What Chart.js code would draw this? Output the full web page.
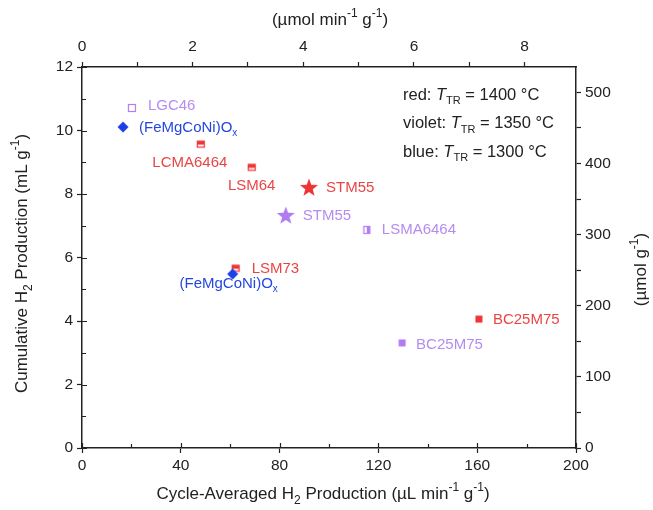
<!DOCTYPE html>
<html>
<head>
<meta charset="utf-8">
<script src="https://cdn.jsdelivr.net/npm/chart.js@4.4.1/dist/chart.umd.min.js"></script>
<style>
  html, body { margin: 0; padding: 0; background: #fff; }
  #wrap { width: 653px; height: 510px; }
</style>
</head>
<body>
<div id="wrap"><canvas id="chart"></canvas></div>
<script>
const materials = ['LGC46', '(FeMgCoNi)Ox', 'LCMA6464', 'LSM64', 'STM55', 'STM55', 'LSMA6464', 'LSM73', '(FeMgCoNi)Ox', 'BC25M75', 'BC25M75'];
const rateUL = [20.2, 16.6, 48.1, 68.7, 91.9, 82.5, 115.3, 62.2, 61.0, 160.7, 129.6];       // uL min-1 g-1
const cumulativeML = [10.71, 10.11, 9.57, 8.84, 8.22, 7.34, 6.87, 5.66, 5.48, 4.06, 3.31]; // mL g-1
const reductionT = [1350, 1300, 1400, 1400, 1400, 1350, 1350, 1400, 1300, 1400, 1350];     // deg C
const markerKind = ['open', 'diamond', 'halfTop', 'halfTop', 'star', 'star', 'halfRight', 'halfTop', 'diamond', 'filled', 'filled'];

const bottomTicks = [0, 40, 80, 120, 160, 200];
const topTicks = [0, 2, 4, 6, 8];
const leftTicks = [0, 2, 4, 6, 8, 10, 12];
const rightTicks = [0, 100, 200, 300, 400, 500];
const molarVolume = 22.4; // mL per mmol

// label placement relative to the marker: dx, dy, align
const labelPlace = [
    [16, -2, 'left'], [16, 1, 'left'], [-11, 19, 'center'], [0, 19, 'center'],
    [17, 1, 'left'], [17, 1, 'left'], [15, 0, 'left'], [16, 1, 'left'],
    [-4, 10, 'center'], [14, 1, 'left'], [14, 2, 'left']
];

const markColor = {1400: '#ef3434', 1350: '#b07cf2', 1300: '#1e3fe6'};
const textColor = {1400: '#e84545', 1350: '#b58cf0', 1300: '#2447e0'};
const ink = '#222';
const FONT = "'Liberation Sans', Arial, sans-serif";

function makeMarker(kind, color){
    const s = kind === 'star' ? 22 : 14;
    const c = document.createElement('canvas');
    c.width = s; c.height = s;
    const g = c.getContext('2d');
    const m = s / 2;
    g.fillStyle = color;
    g.strokeStyle = color;
    g.lineWidth = 1.2;
    if (kind === 'filled') g.fillRect(m - 3.5, m - 3.5, 7, 7);
    if (kind === 'open') g.strokeRect(m - 3.5, m - 3.5, 7, 7);
    if (kind === 'halfTop') { g.strokeRect(m - 3.5, m - 3, 7, 6); g.fillRect(m - 3.5, m - 3, 7, 3.5); }
    if (kind === 'halfRight') { g.strokeRect(m - 3, m - 3.5, 6, 7); g.fillRect(m, m - 3.5, 3, 7); }
    if (kind === 'diamond') {
        g.beginPath();
        g.moveTo(m, m - 5.5); g.lineTo(m + 5.5, m); g.lineTo(m, m + 5.5); g.lineTo(m - 5.5, m);
        g.closePath(); g.fill();
    }
    if (kind === 'star') {
        g.beginPath();
        for (let k = 0; k < 10; k++) {
            const r = k % 2 === 0 ? 9.5 : 3.9;
            const a = -Math.PI / 2 + k * Math.PI / 5;
            g.lineTo(m + r * Math.cos(a), m + 1 + r * Math.sin(a));
        }
        g.closePath(); g.fill();
    }
    return c;
}
const markerImages = markerKind.map((k, i) => makeMarker(k, markColor[reductionT[i]]));

// text with sub/superscripts: parts = [[text, 'n'|'sub'|'sup'|'it'], ...]
function drawRich(ctx, parts, x, y, size, align, rotate){
    const small = Math.round(size * 0.68);
    const fontOf = t => t === 'sub' || t === 'sup' ? `${small}px ${FONT}` : (t === 'it' ? `italic ${size}px ${FONT}` : `${size}px ${FONT}`);
    ctx.save();
    ctx.translate(x, y);
    if (rotate) ctx.rotate(rotate);
    let total = 0;
    parts.forEach(([s, t]) => { ctx.font = fontOf(t); total += ctx.measureText(s).width; });
    let cx = align === 'center' ? -total / 2 : (align === 'right' ? -total : 0);
    ctx.textBaseline = 'middle';
    ctx.textAlign = 'left';
    parts.forEach(([s, t]) => {
        ctx.font = fontOf(t);
        const dy = t === 'sub' ? size * 0.38 : (t === 'sup' ? -size * 0.35 : 0);
        ctx.fillText(s, cx, dy);
        cx += ctx.measureText(s).width;
    });
    ctx.restore();
}

function nameParts(name){
    if (name.endsWith(')Ox')) return [[name.slice(0, -1), 'n'], ['x', 'sub']];
    return [[name, 'n']];
}

const pointLabels = {
    id: 'pointLabels',
    afterDatasetsDraw(chart){
        const ctx = chart.ctx;
        const meta = chart.getDatasetMeta(0);
        meta.data.forEach((pt, i) => {
            const [dx, dy, align] = labelPlace[i];
            ctx.fillStyle = textColor[reductionT[i]];
            drawRich(ctx, nameParts(materials[i]), pt.x + dx, pt.y + dy, 15, align, 0);
        });
    }
};

// inward tick marks on the left and bottom axes
const innerTicks = {
    id: 'innerTicks',
    afterDraw(chart){
        const ctx = chart.ctx;
        const a = chart.chartArea;
        ctx.save();
        ctx.strokeStyle = ink;
        ctx.lineWidth = 1.2;
        ctx.beginPath();
        chart.scales.y.ticks.forEach(t => {
            const py = Math.round(chart.scales.y.getPixelForValue(t.value)) + 0.5;
            const len = leftTicks.includes(t.value) ? 5 : 4;
            ctx.moveTo(a.left, py); ctx.lineTo(a.left + len, py);
        });
        chart.scales.x.ticks.forEach(t => {
            const px = Math.round(chart.scales.x.getPixelForValue(t.value)) + 0.5;
            const len = bottomTicks.includes(t.value) ? 5 : 4;
            ctx.moveTo(px, a.bottom); ctx.lineTo(px, a.bottom - len);
        });
        ctx.stroke();
        ctx.restore();
    }
};

const annotations = {
    id: 'annotations',
    afterDraw(chart){
        const ctx = chart.ctx;
        const a = chart.chartArea;
        const midX = (a.left + a.right) / 2;
        const midY = (a.top + a.bottom) / 2;
        ctx.fillStyle = ink;
        drawRich(ctx, [['Cycle-Averaged H', 'n'], ['2', 'sub'], [' Production (\u00b5L min', 'n'], ['-1', 'sup'], [' g', 'n'], ['-1', 'sup'], [')', 'n']], midX - 6, a.bottom + 46, 17, 'center', 0);
        drawRich(ctx, [['(\u00b5mol min', 'n'], ['-1', 'sup'], [' g', 'n'], ['-1', 'sup'], [')', 'n']], midX + 1, a.top - 47, 17, 'center', 0);
        drawRich(ctx, [['Cumulative H', 'n'], ['2', 'sub'], [' Production (mL g', 'n'], ['-1', 'sup'], [')', 'n']], 22, midY + 6, 17, 'center', -Math.PI / 2);
        drawRich(ctx, [['(\u00b5mol g', 'n'], ['-1', 'sup'], [')', 'n']], a.right + 65, midY + 12, 17, 'center', -Math.PI / 2);

        const lx = a.right - 173;
        [['red: ', '1400'], ['violet: ', '1350'], ['blue: ', '1300']].forEach(([c, t], k) => {
            drawRich(ctx, [[c, 'n'], ['T', 'it'], ['TR', 'sub'], [` = ${t} \u00b0C`, 'n']], lx, a.top + 28 + k * 28.5, 16.5, 'left', 0);
        });
    }
};

function axisStyle(extra, majors, outerMinor){
    return Object.assign({
        type: 'linear',
        border: { display: true, color: ink, width: 1.5 },
        grid: {
            drawOnChartArea: false, drawTicks: true, tickLength: 5, tickWidth: 1.2,
            color: c => (outerMinor || (c.tick && majors.includes(c.tick.value))) ? ink : 'rgba(0,0,0,0)'
        },
    }, extra);
}

new Chart(document.getElementById('chart'), {
    type: 'scatter',
    data: {
        datasets: [{
            data: rateUL.map((x, i) => ({ x: x, y: cumulativeML[i] })),
            pointStyle: ctx => markerImages[ctx.dataIndex],
            pointRadius: 6,
            showLine: false,
        }]
    },
    options: {
        responsive: true,
        maintainAspectRatio: false,
        animation: false,
        layout: { padding: 0 },
        plugins: { legend: { display: false }, tooltip: { enabled: false } },
        scales: {
            x: axisStyle({
                position: 'bottom', min: 0, max: 200,
                ticks: { stepSize: 20, includeBounds: false, color: ink, font: { family: FONT, size: 15.5 }, padding: 3, maxRotation: 0,
                    callback: v => bottomTicks.includes(v) ? v : '' },
                afterFit: s => { s.height = 62; }
            }, bottomTicks, false),
            x2: axisStyle({
                position: 'top', min: 0, max: 200 / molarVolume,
                ticks: { stepSize: 1, includeBounds: false, color: ink, font: { family: FONT, size: 15.5 }, padding: 6, maxRotation: 0,
                    callback: v => topTicks.includes(v) ? v : '' },
                afterFit: s => { s.height = 67; }
            }, topTicks, true),
            y: axisStyle({
                position: 'left', min: 0, max: 12,
                ticks: { stepSize: 1, includeBounds: false, color: ink, font: { family: FONT, size: 15.5 }, padding: 4,
                    callback: v => leftTicks.includes(v) ? v : '' },
                afterFit: s => { s.width = 82; }
            }, leftTicks, false),
            y2: axisStyle({
                position: 'right', min: 0, max: 12000 / molarVolume,
                ticks: { stepSize: 50, includeBounds: false, color: ink, font: { family: FONT, size: 15.5 }, padding: 4,
                    callback: v => rightTicks.includes(v) ? v : '' },
                afterFit: s => { s.width = 77; }
            }, rightTicks, true)
        }
    },
    plugins: [pointLabels, innerTicks, annotations]
});
</script>
</body>
</html>
